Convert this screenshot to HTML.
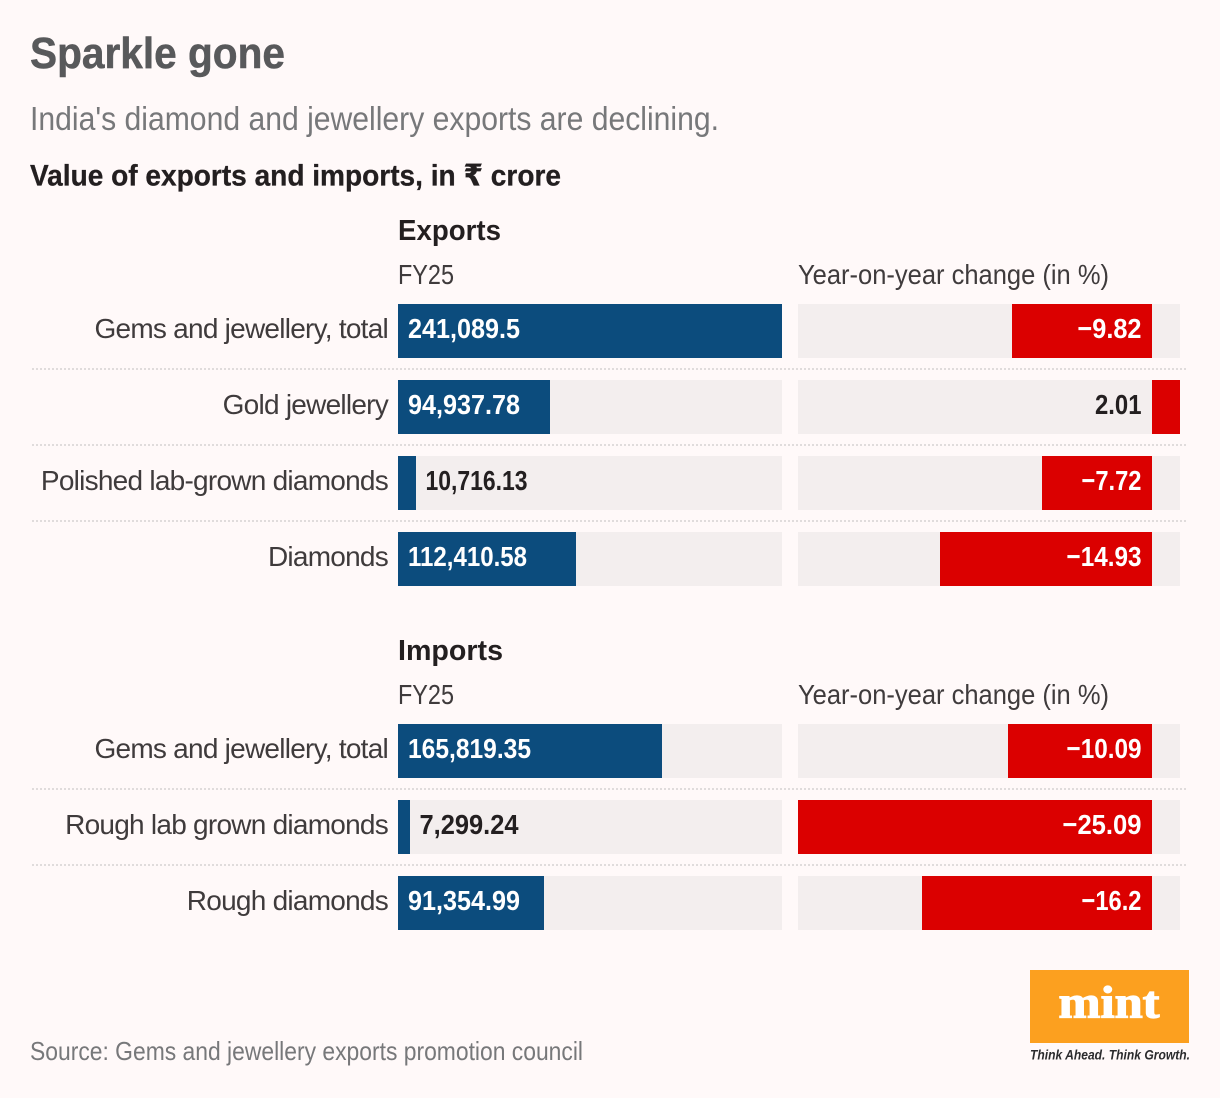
<!DOCTYPE html>
<html lang="en">
<head>
<meta charset="utf-8">
<title>Sparkle gone</title>
<style>
html,body{margin:0;padding:0;background:#fff9f9;}
body{width:1220px;height:1098px;overflow:hidden;}
svg{display:block;font-family:"Liberation Sans","DejaVu Sans",sans-serif;}
</style>
</head>
<body>
<svg id="chart" xmlns="http://www.w3.org/2000/svg" width="1220" height="1098" viewBox="0 0 1220 1098">
  <rect x="0" y="0" width="1220" height="1098" fill="#fff9f9"/>
  <text x="30" y="68" font-size="44" font-weight="700" fill="#58595b" stroke="#58595b" stroke-width="0.5" textLength="255" lengthAdjust="spacingAndGlyphs">Sparkle gone</text>
  <text x="30" y="130" font-size="33" fill="#77787a" textLength="689" lengthAdjust="spacingAndGlyphs">India's diamond and jewellery exports are declining.</text>
  <text x="30" y="185.5" font-size="30" font-weight="700" fill="#231f20" stroke="#231f20" stroke-width="0.3" textLength="531" lengthAdjust="spacingAndGlyphs">Value of exports and imports, in ₹ crore</text>

  <text x="398" y="240" font-size="29" font-weight="700" fill="#231f20" textLength="103" lengthAdjust="spacingAndGlyphs">Exports</text>
  <text x="398" y="284" font-size="28" fill="#3f3b3c" textLength="56" lengthAdjust="spacingAndGlyphs">FY25</text>
  <text x="798" y="284" font-size="28" fill="#3f3b3c" textLength="311" lengthAdjust="spacingAndGlyphs">Year-on-year change (in %)</text>

  <text x="398" y="660" font-size="29" font-weight="700" fill="#231f20" textLength="105" lengthAdjust="spacingAndGlyphs">Imports</text>
  <text x="398" y="704" font-size="28" fill="#3f3b3c" textLength="56" lengthAdjust="spacingAndGlyphs">FY25</text>
  <text x="798" y="704" font-size="28" fill="#3f3b3c" textLength="311" lengthAdjust="spacingAndGlyphs">Year-on-year change (in %)</text>

  <g id="rows"></g>

  <text x="30" y="1060" font-size="26" fill="#77787a" textLength="553" lengthAdjust="spacingAndGlyphs">Source: Gems and jewellery exports promotion council</text>

  <g>
    <rect x="1030" y="970" width="159" height="73" fill="#fca01f"/>
    <text x="1109" y="1017.5" text-anchor="middle" font-family="'Liberation Serif',serif" font-size="46" font-weight="700" fill="#ffffff" stroke="#ffffff" stroke-width="1.2" textLength="101" lengthAdjust="spacingAndGlyphs">mint</text>
    <text x="1030" y="1059.5" font-size="13.5" font-style="italic" font-weight="700" fill="#2b2b2d" textLength="160" lengthAdjust="spacingAndGlyphs">Think Ahead. Think Growth.</text>
  </g>
</svg>
<script>
const exportCategories = ["Gems and jewellery, total", "Gold jewellery", "Polished lab-grown diamonds", "Diamonds"];
const exportValues = [241089.5, 94937.78, 10716.13, 112410.58];
const exportValueLabels = ["241,089.5", "94,937.78", "10,716.13", "112,410.58"];
const exportChanges = [-9.82, 2.01, -7.72, -14.93];

const importCategories = ["Gems and jewellery, total", "Rough lab grown diamonds", "Rough diamonds"];
const importValues = [165819.35, 7299.24, 91354.99];
const importValueLabels = ["165,819.35", "7,299.24", "91,354.99"];
const importChanges = [-10.09, -25.09, -16.2];

const valueDomainMax = 241300;
const changeDomainMin = -25;
const changeDomainMax = 2;

const NS = "http://www.w3.org/2000/svg";
const root = document.getElementById("rows");
const valLeft = 398, valRight = 782, chgLeft = 798, chgRight = 1180;
const rowH = 54, rowStep = 76;

function evenRound(x) { return Math.round(x / 2) * 2; }
function evenFloor(x) { return Math.floor(x / 2) * 2; }
function evenCeil(x) { return Math.ceil(x / 2) * 2; }
function clamp(x, a, b) { return Math.max(a, Math.min(b, x)); }

function xValue(v) {
  return clamp(evenRound(valLeft + (v / valueDomainMax) * (valRight - valLeft)), valLeft, valRight);
}
function rawChange(v) {
  return chgLeft + ((v - changeDomainMin) / (changeDomainMax - changeDomainMin)) * (chgRight - chgLeft);
}
function xChange(v) {
  const raw = rawChange(v);
  if (v === 0) return evenRound(raw);
  return clamp(v < 0 ? evenFloor(raw) : evenCeil(raw), chgLeft, chgRight);
}
function make(tag, attrs, text) {
  const el = document.createElementNS(NS, tag);
  for (const k in attrs) el.setAttribute(k, attrs[k]);
  if (text !== undefined) el.textContent = text;
  return el;
}
function numberTextWidth(s) {
  let w = 0;
  for (const c of s) {
    if (c === "," || c === ".") w += 5.5;
    else if (c === "1") w += 11;
    else if (c === "7") w += 13;
    else if (c === "\u2212") w += 13.5;
    else w += 15;
  }
  return w;
}
function drawGroup(prefix, top, cats, vals, labels, changes) {
  cats.forEach(function (cat, i) {
    const y = top + i * rowStep;
    const slug = prefix + "-" + cat.toLowerCase().replace(/[^a-z]+/g, "-").replace(/-$/, "");

    const label = make("text", {x: 388, y: y + 34, "text-anchor": "end", "font-size": 28, fill: "#3f3b3c"}, cat);
    
    
    label.style.letterSpacing = "-0.75px";
    root.appendChild(label);

    const track = make("rect", {x: valLeft, y: y, width: valRight - valLeft, height: rowH, fill: "#f3eeee"});
    
    
    root.appendChild(track);

    const barEnd = xValue(vals[i]);
    const bar = make("rect", {x: valLeft, y: y, width: barEnd - valLeft, height: rowH, fill: "#0c4c7d", id: slug + "-value"});
    
    
    root.appendChild(bar);

    const valWidth = numberTextWidth(labels[i]);
    const fits = barEnd - valLeft > valWidth + 20;
    const valText = make("text", {
      x: fits ? valLeft + 10 : barEnd + 9.5,
      y: y + 34, "font-size": 28, "font-weight": 700,
      fill: fits ? "#ffffff" : "#231f20",
      textLength: valWidth, lengthAdjust: "spacingAndGlyphs"
    }, labels[i]);
    
    
    root.appendChild(valText);

    const chgTrack = make("rect", {x: chgLeft, y: y, width: chgRight - chgLeft, height: rowH, fill: "#f3eeee"});
    
    
    root.appendChild(chgTrack);

    const x0 = evenRound(rawChange(0)), x1 = xChange(changes[i]);
    const chg = make("rect", {x: Math.min(x0, x1), y: y, width: Math.abs(x1 - x0), height: rowH, fill: "#db0000", id: slug + "-change"});
    
    
    root.appendChild(chg);

    const neg = changes[i] < 0;
    const chgString = (neg ? "\u2212" : "") + Math.abs(changes[i]);
    const chgText = make("text", {
      x: x0 - 10.5, y: y + 34, "text-anchor": "end", "font-size": 28, "font-weight": 700,
      fill: neg ? "#ffffff" : "#231f20",
      textLength: numberTextWidth(chgString), lengthAdjust: "spacingAndGlyphs"
    }, chgString);
    
    
    root.appendChild(chgText);

    if (i < cats.length - 1) {
      const rule = make("line", {x1: 32, x2: 1188, y1: y + rowH + 11, y2: y + rowH + 11, stroke: "#e0dcdc", "stroke-width": 2, "stroke-dasharray": "2 2"});
      
      
      root.appendChild(rule);
    }
  });
}
drawGroup("exports", 304, exportCategories, exportValues, exportValueLabels, exportChanges);
drawGroup("imports", 724, importCategories, importValues, importValueLabels, importChanges);
</script>
</body>
</html>
